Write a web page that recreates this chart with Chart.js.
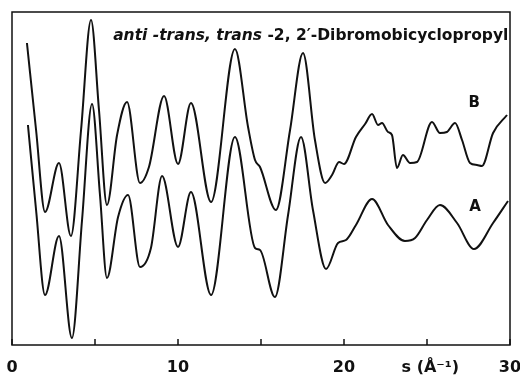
<!DOCTYPE html>
<html>
<head>
<meta charset="utf-8">
<script src="https://cdn.jsdelivr.net/npm/chart.js@4/dist/chart.umd.min.js"></script>
<style>
html,body{margin:0;padding:0;background:#fff;}
#wrap{width:520px;height:377px;position:relative;}
</style>
</head>
<body>
<div id="wrap"><canvas id="c" width="520" height="377"></canvas></div>
<script>
// x tick values (s, Å^-1)
const xTicks = [0, 5, 10, 15, 20, 25, 30];
const xLabels = [{s: 0, text: '0'}, {s: 10, text: '10'}, {s: 20, text: '20'}, {s: 25.2, text: 's (Å⁻¹)'}, {s: 30, text: '30'}];

// Curve A (lower)
const sA = [0.96,1.45,1.99,2.83,3.61,4.22,4.82,5.30,5.72,6.39,6.99,7.71,8.37,9.04,10.0,10.78,11.99,13.43,14.64,14.94,15.84,16.63,17.41,18.13,18.92,19.64,20.12,20.72,21.69,22.65,23.67,24.28,25.0,25.78,26.81,27.83,28.98,29.88];
const yA = [220,135,50,109,7,125,241,150,67,128,150,78,97,169,98,153,50,208,97,95,48,130,208,135,76,102,105,120,146,120,104,107,125,140,122,96,122,144];

// Curve B (upper)
const sB = [0.90,1.45,1.99,2.83,3.55,4.16,4.76,5.24,5.72,6.33,6.93,7.71,8.25,9.16,10.0,10.78,11.99,13.43,14.22,14.64,14.94,15.90,16.75,17.53,18.25,18.86,19.28,19.70,20.0,20.72,21.27,21.69,22.05,22.29,22.65,22.89,23.19,23.55,23.98,24.40,25.30,25.78,26.20,26.69,27.11,27.59,28.01,28.31,28.98,29.82];
const yB = [302,215,133,182,109,215,325,235,140,210,243,162,178,249,181,242,143,296,218,185,178,135,215,292,205,162,170,183,181,208,221,231,220,222,213,210,177,190,182,183,223,212,213,222,205,182,180,179,212,230];

const title = ['anti -trans, trans', ' -2, 2′-Dibromobicyclopropyl'];
const curveLabels = [{text: 'A', s: 27.9, v: 138}, {text: 'B', s: 27.85, v: 242}];

const FONT = '"DejaVu Sans", "Liberation Sans", sans-serif';

const decor = {
  id: 'decor',
  afterDraw(chart) {
    const {ctx, chartArea: a, scales: {x, y}} = chart;
    ctx.save();
    ctx.strokeStyle = '#111';
    ctx.lineWidth = 1.5;
    ctx.strokeRect(a.left, a.top, a.right - a.left, a.bottom - a.top);
    xTicks.forEach(t => {
      const px = x.getPixelForValue(t);
      ctx.beginPath();
      ctx.moveTo(px, a.bottom);
      ctx.lineTo(px, a.bottom - 6);
      ctx.stroke();
    });
    ctx.fillStyle = '#111';
    ctx.textBaseline = 'middle';
    // x tick labels
    ctx.font = 'bold 16px ' + FONT;
    ctx.textAlign = 'center';
    xLabels.forEach(l => ctx.fillText(l.text, x.getPixelForValue(l.s), a.bottom + 23));
    // title
    const tx = x.getPixelForValue(29.9), ty = y.getPixelForValue(309);
    ctx.font = 'bold 15.5px ' + FONT;
    const w2 = ctx.measureText(title[1]).width;
    ctx.textAlign = 'right';
    ctx.fillText(title[1], tx, ty);
    ctx.font = 'italic bold 15.5px ' + FONT;
    ctx.fillText(title[0], tx - w2, ty);
    // curve labels
    ctx.font = 'bold 15px ' + FONT;
    ctx.textAlign = 'center';
    curveLabels.forEach(l => ctx.fillText(l.text, x.getPixelForValue(l.s), y.getPixelForValue(l.v)));
    ctx.restore();
  }
};

const mk = (s, v) => s.map((sv, i) => ({x: sv, y: v[i]}));

new Chart(document.getElementById('c'), {
  type: 'line',
  data: {
    datasets: [
      {data: mk(sA, yA), borderColor: '#111', borderWidth: 2, pointRadius: 0, cubicInterpolationMode: 'monotone', fill: false},
      {data: mk(sB, yB), borderColor: '#111', borderWidth: 2, pointRadius: 0, cubicInterpolationMode: 'monotone', fill: false}
    ]
  },
  options: {
    responsive: false,
    animation: false,
    layout: {padding: {left: 12, right: 10, top: 12, bottom: 32}},
    plugins: {legend: {display: false}, tooltip: {enabled: false}, title: {display: false}},
    scales: {
      x: {type: 'linear', min: 0, max: 30, display: false},
      y: {type: 'linear', min: 0, max: 333, display: false}
    }
  },
  plugins: [decor]
});
</script>
</body>
</html>
